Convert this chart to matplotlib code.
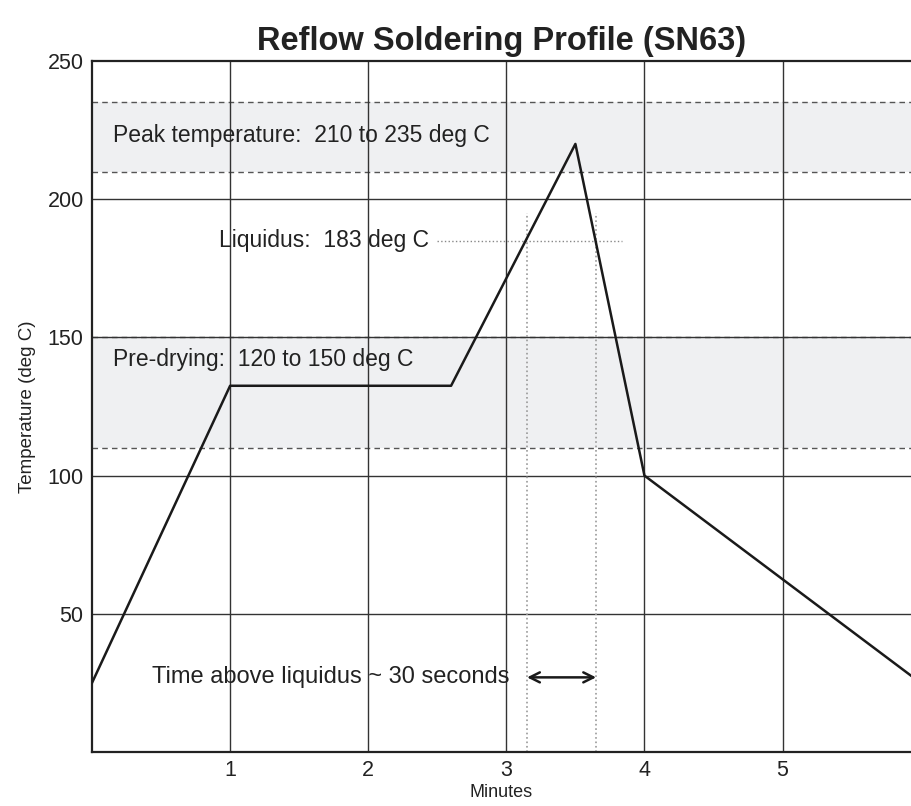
import matplotlib.pyplot as plt

# Temperature profile (minutes, deg C)
profile_t = [0, 1, 2.6, 3.5, 4, 6]
profile_temp = [25, 132.5, 132.5, 220, 100, 25]

# Bands (deg C)
peak_band = (210, 235)
predry_band = (110, 150)
liquidus = 185
liq_times = [3.15, 3.65]

x_ticks = [1, 2, 3, 4, 5]
y_ticks = [50, 100, 150, 200, 250]

plt.rcParams['font.family'] = ['Liberation Sans', 'DejaVu Sans']

fig = plt.figure(figsize=(9.11, 8.06), dpi=100)
ax = fig.add_axes([92 / 911, 54 / 806, 1 - 92 / 911, (752 - 61) / 806])

band_col = '#eff0f2'
dash_col = '#555555'
for lo, hi in [peak_band, predry_band]:
    ax.axhspan(lo, hi, color=band_col, zorder=0, lw=0)
    ax.axhline(lo, color=dash_col, ls=(0, (4, 3)), lw=1, zorder=1)
    ax.axhline(hi, color=dash_col, ls=(0, (4, 3)), lw=1, zorder=1)

# grid
for x in x_ticks:
    ax.axvline(x, color='#333333', lw=1, zorder=1)
for y in y_ticks[:-1]:
    ax.axhline(y, color='#333333', lw=1, zorder=1)

# liquidus guides
ax.plot([2.5, 3.84], [liquidus, liquidus], color='#888888', ls=':', lw=1, zorder=2)
for t in liq_times:
    ax.plot([t, t], [0, 195], color='#999999', ls=':', lw=1.2, zorder=2)

ax.plot(profile_t, profile_temp, color='#1a1a1a', lw=1.8, zorder=3)

ax.annotate('', xy=(liq_times[0], 27), xytext=(liq_times[1], 27),
            arrowprops=dict(arrowstyle='<->', color='#1a1a1a', lw=1.8,
                            shrinkA=0, shrinkB=0, mutation_scale=18), zorder=4)

fs = 16.5
ax.text(0.15, 223, 'Peak temperature:  210 to 235 deg C', fontsize=fs, va='center', color='#222222')
ax.text(0.15, 142, 'Pre-drying:  120 to 150 deg C', fontsize=fs, va='center', color='#222222')
ax.text(0.92, liquidus, 'Liquidus:  183 deg C', fontsize=fs, va='center', color='#222222')
ax.text(3.02, 27, 'Time above liquidus ~ 30 seconds', fontsize=fs + 0.5, va='center', ha='right', color='#222222')

ax.set_xlim(0, 5.93)
ax.set_ylim(0, 250)
ax.set_xticks(x_ticks)
ax.set_yticks(y_ticks)
ax.tick_params(length=0, labelsize=15.5, pad=6, colors='#222222')
ax.spines['right'].set_visible(False)
for s in ['left', 'bottom', 'top']:
    ax.spines[s].set_linewidth(1.6)
    ax.spines[s].set_color('#222222')

ax.set_xlabel('Minutes', fontsize=13, labelpad=2, color='#222222')
ax.set_ylabel('Temperature (deg C)', fontsize=13.5, labelpad=8, color='#222222')
ax.set_title('Reflow Soldering Profile (SN63)', fontsize=23.5, fontweight='bold', pad=8, color='#222222')

fig.savefig('out.png', dpi=100)
